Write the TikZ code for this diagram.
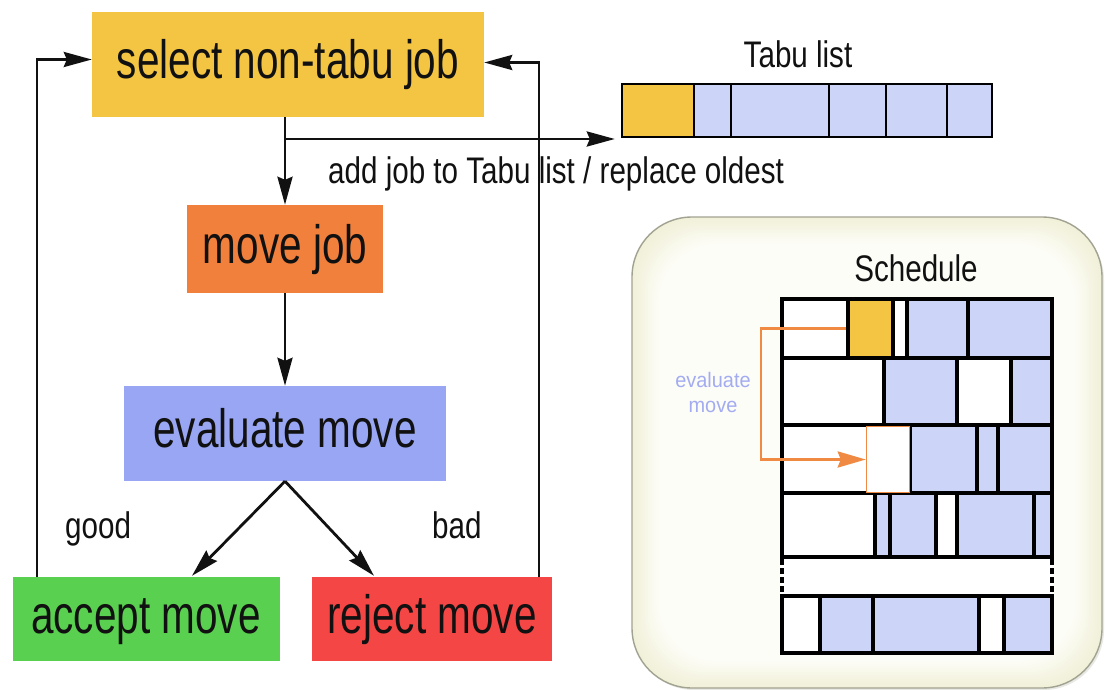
\documentclass[tikz,border=0pt]{standalone}
\usepackage{fontspec}
\setmainfont{Liberation Sans}
\newfontfamily\boxfont[FakeStretch=0.75]{Liberation Sans}
\newfontfamily\notefont[FakeStretch=0.8]{Liberation Sans}
\newfontfamily\lblfont[FakeStretch=0.95]{Liberation Sans}
\usetikzlibrary{arrows.meta,calc}

\definecolor{cyel}{HTML}{F4C542}
\definecolor{corg}{HTML}{F0803C}
\definecolor{cblu}{HTML}{99A6F4}
\definecolor{cgrn}{HTML}{5AD050}
\definecolor{cred}{HTML}{F54646}
\definecolor{ccell}{HTML}{CCD5F7}
\definecolor{clab}{HTML}{A3ACF0}
\definecolor{carr}{HTML}{F08A42}
\definecolor{cpanel}{HTML}{F1F0D8}
\definecolor{cpanelin}{HTML}{FDFDF8}
\definecolor{cedge}{HTML}{A2A292}
\definecolor{ctext}{HTML}{111111}

\tikzset{
  flowbox/.style={inner sep=0pt, text=ctext, text height=28pt, text depth=0pt,
    font=\boxfont\fontsize{54}{60}\selectfont},
  note/.style={inner sep=0pt, text=ctext, font=\notefont\fontsize{37}{42}\selectfont},
  conn/.style={line width=2.8pt, color=ctext, -{Stealth[length=28pt,width=15pt,inset=3pt]}},
  gridcell/.style={draw=black, line width=3.5pt},
  tabucell/.style={draw=black, line width=2.8pt},
  oarr/.style={line width=2.8pt, color=carr, -{Stealth[length=28pt,width=16pt,inset=3pt]}},
}

\begin{document}
\begin{tikzpicture}[x=1pt,y=-1pt]
\useasboundingbox (0,0) rectangle (1106,690);

% ---------- flow chart ----------
\node[flowbox, fill=cyel, minimum width=392, minimum height=105] (sel) at (288,64.5) {select non-tabu job};
\node[flowbox, fill=corg, minimum width=196, minimum height=88] (mv) at (285,249) {move job};
\node[flowbox, fill=cblu, minimum width=322, minimum height=95] (ev) at (285,433.5) {evaluate move};
\node[flowbox, fill=cgrn, minimum width=267, minimum height=84] (acc) at (146,619) {accept move};
\node[flowbox, fill=cred, minimum width=240, minimum height=84] (rej) at (432,619) {reject move};

% ---------- tabu list ----------
\node[inner sep=0pt, minimum width=370, minimum height=53] (tabu) at (807,110.5) {};
\foreach \xa/\xb/\c in {622/694/cyel, 694/731/ccell, 731/829/ccell, 829/886/ccell, 886/947/ccell, 947/992/ccell}
  \filldraw[tabucell, fill=\c] (\xa,84) rectangle (\xb,137);
\node[note, anchor=base] (tabulbl) at (798,68) {Tabu list};

% ---------- connectors ----------
\coordinate (br) at (285,139);
\coordinate (lx) at (37,0);
\coordinate (rx) at (539,0);
\draw[conn] (sel.south -| mv.north) -- (mv.north);
\draw[conn, shorten >=7pt] (br) -- (br -| tabu.west);
\draw[conn] (mv.south) -- (ev.north);
\draw[conn] (ev.south) -- ($(acc.north)+(46,-1)$);
\draw[conn] (ev.south) -- ($(rej.north)+(-58,-1)$);
\draw[conn] (acc.north -| lx) |- ([yshift=5pt]sel.west);
\draw[conn] (rej.north -| rx) |- ([yshift=2pt]sel.east);

\node[note, anchor=base west] (addlbl) at (328,183) {add job to Tabu list / replace oldest};
\node[note, anchor=base west] (good) at (65,538) {good};
\node[note, anchor=base west] (bad) at (432,538) {bad};

% ---------- schedule panel ----------
\fill[cedge!25] (634,220) [rounded corners=60pt] rectangle (1104,690);
\fill[cpanel, rounded corners=60pt] (632,217) rectangle (1102,688);
\foreach \i in {1,...,12}{
  \pgfmathsetmacro{\ins}{2.2*\i}
  \pgfmathsetmacro{\mix}{8.3*\i}
  \fill[cpanelin!\mix!cpanel, rounded corners=60pt]
    (632+\ins,217+\ins) rectangle (1102-\ins,688-\ins);
}
\draw[cedge, line width=1.4pt, rounded corners=60pt] (632,217) rectangle (1102,688);

\node[note, anchor=base] (schedlbl) at (916,281) {Schedule};

% rows of the schedule
\fill[white] (782,299) rectangle (1052,653);
\foreach \xa/\xb/\c in {782/848/white, 893/907/white, 907/968/ccell, 968/1052/ccell}
  \filldraw[gridcell, fill=\c] (\xa,299) rectangle (\xb,358);
\node[gridcell, fill=cyel, inner sep=0pt, minimum width=45, minimum height=59] (ymv) at (870.5,328.5) {};
\foreach \xa/\xb/\c in {782/884/white, 884/957/ccell, 957/1011/white, 1011/1052/ccell}
  \filldraw[gridcell, fill=\c] (\xa,358) rectangle (\xb,425);
\foreach \xa/\xb/\c in {782/910/white, 910/977/ccell, 977/998/ccell, 998/1052/ccell}
  \filldraw[gridcell, fill=\c] (\xa,425) rectangle (\xb,493);
\foreach \xa/\xb/\c in {782/875/white, 875/890/ccell, 890/936/ccell, 936/957/white, 957/1034/ccell, 1034/1052/ccell}
  \filldraw[gridcell, fill=\c] (\xa,493) rectangle (\xb,557);
\foreach \xa/\xb/\c in {782/820/white, 820/873/ccell, 873/979/ccell, 979/1004/white, 1004/1052/ccell}
  \filldraw[gridcell, fill=\c] (\xa,596) rectangle (\xb,653);
\draw[black, line width=3.5pt, dash pattern=on 6pt off 3pt] (782,559) -- (782,594);
\draw[black, line width=3.5pt, dash pattern=on 6pt off 3pt] (1052,559) -- (1052,594);

% target slot of the moved job
\node[draw=carr, line width=1.5pt, fill=white, inner sep=0pt, minimum width=43, minimum height=66] (tgt) at (888,459.5) {};

\coordinate (ox) at (761,0);
\draw[oarr] (ymv.west) -- (ymv.west -| ox) |- (tgt.west);
\node[inner sep=0pt, text=clab, align=center, font=\lblfont\fontsize{21}{25}\selectfont] (evlbl) at (713,392) {evaluate\\move};

\end{tikzpicture}
\end{document}
